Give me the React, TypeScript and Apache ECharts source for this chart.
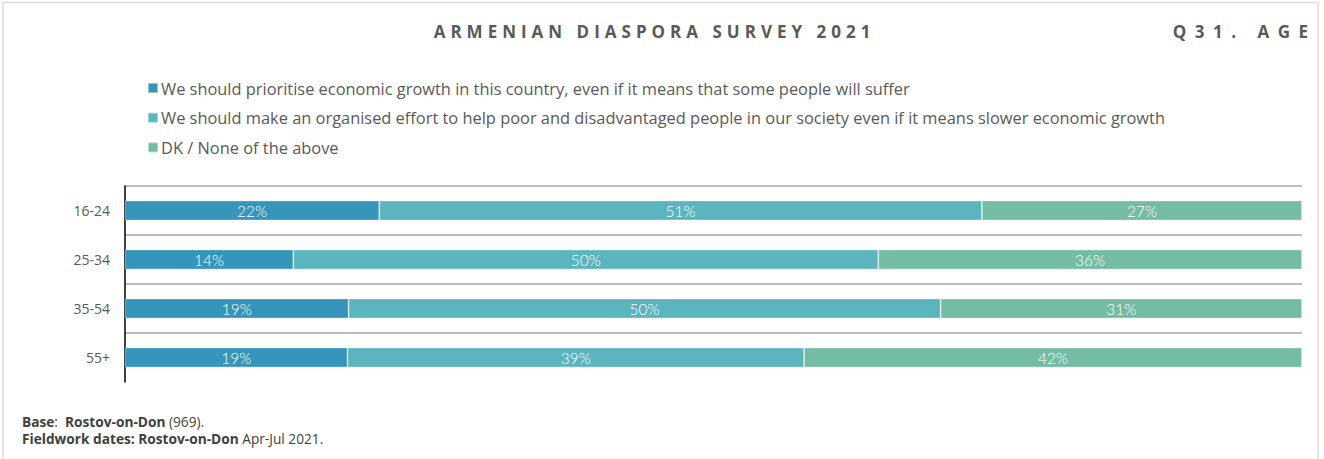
import React, { useEffect, useRef } from "react";
import * as echarts from "echarts";

const categories = ["16-24", "25-34", "35-54", "55+"];
const seriesNames = [
  "We should prioritise economic growth in this country, even if it means that some people will suffer",
  "We should make an organised effort to help poor and disadvantaged people in our society even if it means slower economic growth",
  "DK / None of the above",
];
const growthValues = [21.6, 14.3, 19.0, 18.9];
const helpPoorValues = [51.2, 49.7, 50.3, 38.8];
const dkValues = [27.2, 36.0, 30.7, 42.3];
const colors = ["#3595BA", "#5AB5BF", "#75BCA5"];
const titleText = "ARMENIAN DIASPORA SURVEY 2021";
const subTitleText = "Q31. AGE";

export default function App() {
  const ref = useRef<HTMLDivElement>(null);
  useEffect(() => {
    if (!ref.current) return;
    const chart = echarts.init(ref.current, null, { renderer: "svg" });
    const values = [growthValues, helpPoorValues, dkValues];
    const series = values.map((vals, i) => ({
      name: seriesNames[i],
      type: "bar",
      stack: "total",
      barWidth: 20,
      data: vals,
      itemStyle: { color: colors[i], borderColor: "rgba(255,255,255,0.45)", borderWidth: 0.8 },
      label: {
        show: true,
        position: "inside",
        color: "#ffffff",
        fontFamily: "Lato",
        fontWeight: 300,
        fontSize: 15.5,
        formatter: (p: any) => Math.round(p.value) + "%",
      },
    }));
    chart.setOption({
      animation: false,
      backgroundColor: "#ffffff",
      color: colors,
      legend: {
        orient: "vertical",
        left: 142,
        top: 75,
        itemWidth: 10,
        itemHeight: 10,
        itemGap: 13.7,
        icon: "rect",
        selectedMode: false,
        textStyle: { color: "#595959", fontSize: 16.4, fontFamily: "Open Sans", padding: [0, 0, 0, -2] },
        data: seriesNames,
      },
      grid: { left: 125, right: 22, top: 186, bottom: 77 },
      xAxis: {
        type: "value",
        min: 0,
        max: 100,
        show: false,
      },
      yAxis: {
        type: "category",
        inverse: true,
        data: categories,
        axisLine: { show: true, lineStyle: { color: "#000000", width: 1.5 } },
        axisTick: { show: false },
        axisLabel: { color: "#595959", fontSize: 14, fontFamily: "Open Sans", margin: 15 },
        splitLine: { show: true, showMaxLine: false, lineStyle: { color: "#A6A6A6", width: 1.5 } },
      },
      graphic: [
        {
          type: "rect",
          silent: true,
          shape: { x: 3, y: 2.5, width: 1315, height: 500 },
          style: { fill: "none", stroke: "#DDDDDD", lineWidth: 1.5 },
        },
        {
          type: "text",
          x: 654.5,
          y: 31,
          style: {
            text: titleText,
            fill: "#595959",
            font: "bold 17px 'Open Sans'",
            textAlign: "center",
            textVerticalAlign: "middle",
          },
        },
        {
          type: "text",
          x: 1316.5,
          y: 31,
          style: {
            text: subTitleText,
            fill: "#595959",
            font: "bold 17px 'Open Sans'",
            textAlign: "right",
            textVerticalAlign: "middle",
          },
        },
        {
          type: "text",
          x: 22,
          y: 413,
          style: {
            text: "{b|Base}:  {b|Rostov-on-Don} (969).\n{b|Fieldwork dates: Rostov-on-Don} Apr-Jul 2021.",
            fill: "#404040",
            font: "13.7px 'Open Sans'",
            lineHeight: 17,
            rich: {
              b: { fontWeight: "bold", fontSize: 13.7, fontFamily: "Open Sans", fill: "#404040", lineHeight: 17 },
            },
          },
        },
      ],
      series,
    });
    const svg = ref.current.querySelector("svg");
    if (svg) {
      svg.querySelectorAll("text").forEach((t) => {
        const s = t.textContent || "";
        if (s === titleText) {
          t.setAttribute("letter-spacing", "5px");
        } else if (s === subTitleText) {
          t.setAttribute("letter-spacing", "8.5px");
        }
      });
    }
    return () => chart.dispose();
  }, []);
  return (
    <div
      ref={ref}
      style={{ position: "absolute", left: 0, top: 0, width: 1324, height: 459 }}
    />
  );
}
